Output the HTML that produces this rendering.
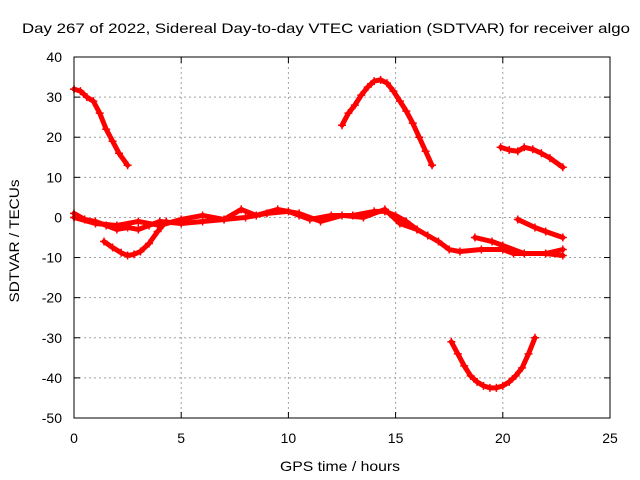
<!DOCTYPE html>
<html><head><meta charset="utf-8"><style>
body{margin:0;background:#fff}
svg{display:block;font-family:"Liberation Sans",sans-serif}
</style></head><body>
<svg id="chart" width="640" height="480" viewBox="0 0 640 480">
<text x="22" y="33" font-size="14" textLength="608" lengthAdjust="spacingAndGlyphs">Day 267 of 2022, Sidereal Day-to-day VTEC variation (SDTVAR) for receiver algo</text>
<text x="0" y="0" font-size="14" text-anchor="middle" textLength="123" lengthAdjust="spacingAndGlyphs" transform="translate(19,241) rotate(-90)">SDTVAR / TECUs</text>
<text x="340" y="471" font-size="14" text-anchor="middle" textLength="120" lengthAdjust="spacingAndGlyphs">GPS time / hours</text>
<g id="grid"></g><g id="axes"></g><g id="series"></g>
<rect x="74" y="57" width="536" height="361" fill="none" stroke="#000" stroke-width="1"/>
</svg>
<script>
const xTicks=[0,5,10,15,20,25];
const yTicks=[40,30,20,10,0,-10,-20,-30,-40,-50];
const seg1X=[0,0.3,0.6,0.9,1.2,1.5,1.8,2.1,2.5];
const seg1Y=[32,31.5,30,29,26,22,19,16,13];
const seg2X=[12.5,12.8,13.1,13.4,13.7,14,14.3,14.6,14.9,15.2,15.5,15.8,16.1,16.4,16.7];
const seg2Y=[23,26,28,30.5,32.5,34,34.3,33.5,31.5,29,26.5,23.5,20,16.5,13];
const seg3X=[19.9,20.3,20.7,21,21.4,21.8,22.2,22.8];
const seg3Y=[17.5,16.8,16.5,17.5,17,16,14.8,12.5];
const seg4X=[17.6,17.9,18.2,18.5,18.8,19.1,19.4,19.7,20,20.3,20.6,20.9,21.2,21.5];
const seg4Y=[-31,-34,-37,-39.5,-41,-42,-42.5,-42.5,-42,-41,-39.5,-37.5,-34,-30];
const seg5X=[0,0.5,1,1.5,2,2.5,3,3.5,4,5,6,7,8,9,10,10.5,11,12,13,14,14.5,15,15.5,16,16.5,17,17.5,18,19,20,20.5,21,22,22.8];
const seg5Y=[1,-0.5,-1,-2,-3,-2.5,-3,-2,-1,-1.5,-1,-0.5,0,1,1.5,0.5,-0.5,0.5,0.5,1.5,1.5,0.5,-1,-3,-4.5,-6,-8,-8.5,-8,-8,-9,-9,-9,-9.5];
const seg6X=[0,1,2,3,4,5,6,7,7.8,8.5,9.5,10.5,11.5,12.5,13.5,14.5,15.2,16];
const seg6Y=[0,-1.5,-2,-1,-2,-0.5,0.5,-0.5,2,0.5,2,1,-1,0.5,0,2,-1.5,-3];
const seg7X=[1.4,1.8,2.2,2.5,2.8,3.1,3.5,3.9,4.3];
const seg7Y=[-6,-7.5,-8.8,-9.5,-9.2,-8.5,-6.5,-3.5,-1];
const seg8X=[18.7,19.5,20,21,22,22.8];
const seg8Y=[-5,-6,-7,-9,-9,-8];
const seg9X=[20.7,21.5,22,22.8];
const seg9Y=[-0.5,-2.5,-3.5,-5];
const X0=74,X1=610,Y0=57,Y1=418;
const sx=v=>X0+(v-0)/25*(X1-X0);
const sy=v=>Y0+(40-v)/90*(Y1-Y0);
const NS="http://www.w3.org/2000/svg";
function mk(t,a,p){const e=document.createElementNS(NS,t);for(const k in a)e.setAttribute(k,a[k]);p.appendChild(e);return e;}
const grid=document.getElementById('grid'),axes=document.getElementById('axes'),ser=document.getElementById('series');
xTicks.forEach(t=>{const x=sx(t);
 if(t>0&&t<25){const g=mk('line',{x1:x,x2:x,y1:Y0,y2:Y1,stroke:'#a0a0a0','stroke-dasharray':'2,3'},grid);
 
 }
 mk('line',{x1:x,x2:x,y1:Y1,y2:Y1-6,stroke:'#000'},axes);
 mk('line',{x1:x,x2:x,y1:Y0,y2:Y0+6,stroke:'#000'},axes);
 const l=mk('text',{x:x,y:Y1+25,'font-size':14,'text-anchor':'middle'},axes);l.textContent=t;
 
 });
yTicks.forEach(t=>{const y=sy(t);
 if(t<40&&t>-50){const g=mk('line',{x1:X0,x2:X1,y1:y,y2:y,stroke:'#a0a0a0','stroke-dasharray':'2,3'},grid);
 
 }
 mk('line',{x1:X0,x2:X0+6,y1:y,y2:y,stroke:'#000'},axes);
 mk('line',{x1:X1,x2:X1-6,y1:y,y2:y,stroke:'#000'},axes);
 const l=mk('text',{x:X0-12,y:y+5,'font-size':14,'text-anchor':'end'},axes);l.textContent=t;
 
 });
const segs=[[seg1X,seg1Y],[seg2X,seg2Y],[seg3X,seg3Y],[seg4X,seg4Y],[seg5X,seg5Y],[seg6X,seg6Y],[seg7X,seg7Y],[seg8X,seg8Y],[seg9X,seg9Y]];
segs.forEach((s,i)=>{const pts=s[0].map((x,j)=>sx(x)+','+sy(s[1][j])).join(' ');
 const p=mk('polyline',{points:pts,fill:'none',stroke:'#f00','stroke-width':5,'stroke-linejoin':'round','stroke-linecap':'round'},ser);
 
 
 s[0].forEach((x,j)=>{const cx=sx(x),cy=sy(s[1][j]);
  mk('path',{d:`M${cx-4},${cy}h8M${cx},${cy-4}v8`,stroke:'#f00','stroke-width':1.5},ser);});
});
</script>
</body></html>
